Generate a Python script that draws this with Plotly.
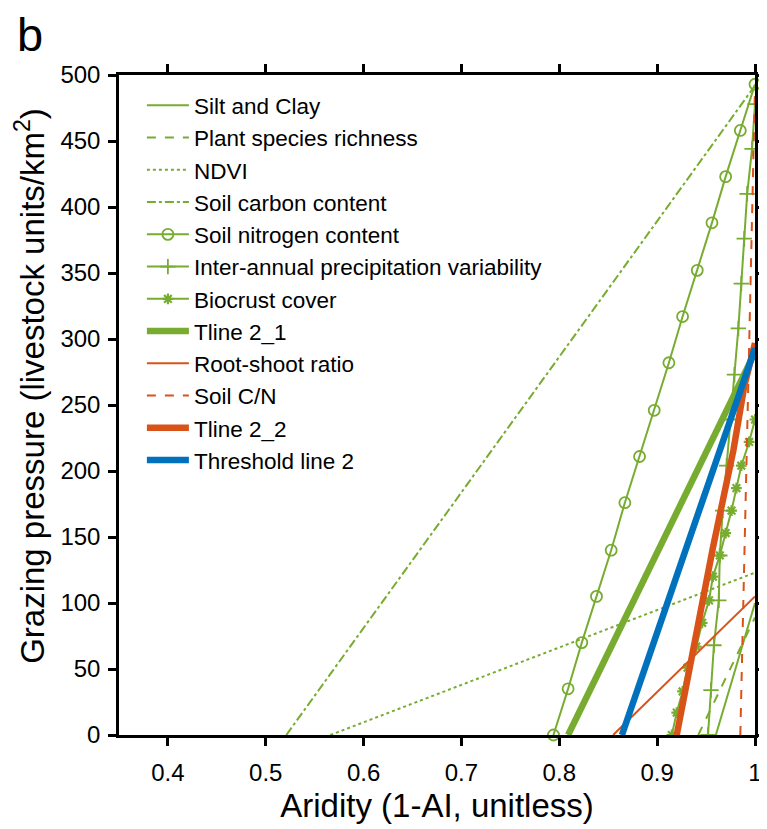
import plotly.graph_objects as go

GREEN = "#77AC30"
ORANGE = "#D95319"
BLUE = "#0072BD"

# ---- data ----
silt_x = [0.960, 1.000]
silt_y = [0, 100]

richness_x = [0.942, 1.000]
richness_y = [0, 89]

ndvi_x = [0.566, 1.000]
ndvi_y = [0, 123]

carbon_x = [0.521, 1.000]
carbon_y = [0, 492]

nitrogen_x = [0.794, 0.809, 0.823, 0.838, 0.853, 0.867, 0.882, 0.897,
              0.912, 0.926, 0.941, 0.956, 0.970, 0.985, 1.000]
nitrogen_y = [0, 35, 70, 105, 140, 176, 211, 246, 282, 317, 352, 388, 423, 458, 493]

precip_x = [0.952, 0.955, 0.958, 0.963, 0.964, 0.967, 0.971, 0.975,
            0.979, 0.983, 0.986, 0.989, 0.992, 0.997, 1.000]
precip_y = [0, 34, 68, 102, 136, 170, 204, 239, 273, 308, 342, 376, 410, 444, 478]

biocrust_x = [0.915, 0.920, 0.926, 0.931, 0.940, 0.946, 0.953, 0.957,
              0.964, 0.970, 0.976, 0.981, 0.986, 0.994, 1.000]
biocrust_y = [0, 17, 33, 51, 67, 85, 102, 120, 136, 153, 170, 187, 204, 222, 239]

tline21_x = [0.809, 1.000]
tline21_y = [0, 290]

rootshoot_x = [0.855, 1.000]
rootshoot_y = [0, 105]

soilcn_x = [0.985, 1.000]
soilcn_y = [0, 491]

tline22_x = [0.920, 0.957, 0.978, 0.989, 1.000]
tline22_y = [0, 142, 216, 264, 297]

threshold_x = [0.864, 1.000]
threshold_y = [0, 293]

x_ticks = [0.4, 0.5, 0.6, 0.7, 0.8, 0.9, 1.0]
x_ticklabels = ["0.4", "0.5", "0.6", "0.7", "0.8", "0.9", "1"]
y_ticks = [0, 50, 100, 150, 200, 250, 300, 350, 400, 450, 500]

FONT = "Liberation Sans, Arial, sans-serif"

fig = go.Figure()

def add(name, xs, ys, color, width=2, dash="solid", symbol=None, msize=10, mlw=1.8, clip=True):
    kw = {}
    if symbol:
        mode = "lines+markers"
        kw["marker"] = dict(symbol=symbol, size=msize, color=color,
                            line=dict(color=color, width=mlw))
    else:
        mode = "lines"
    fig.add_trace(go.Scatter(x=xs, y=ys, name=name, mode=mode,
                             line=dict(color=color, width=width, dash=dash),
                             cliponaxis=clip, **kw))

add("Silt and Clay", silt_x, silt_y, GREEN)
add("Plant species richness", richness_x, richness_y, GREEN, dash="dash")
add("NDVI", ndvi_x, ndvi_y, GREEN, dash="dot")
add("Soil carbon content", carbon_x, carbon_y, GREEN, dash="dashdot")
add("Soil nitrogen content", nitrogen_x, nitrogen_y, GREEN, symbol="circle-open", msize=11, clip=False)
add("Inter-annual precipitation variability", precip_x, precip_y, GREEN, symbol="cross-thin-open", msize=11)
add("Biocrust cover", biocrust_x, biocrust_y, GREEN, symbol="asterisk-open", msize=9, mlw=2.2)
add("Tline 2_1", tline21_x, tline21_y, GREEN, width=6.5)
add("Root-shoot ratio", rootshoot_x, rootshoot_y, ORANGE)
add("Soil C/N", soilcn_x, soilcn_y, ORANGE, dash="dash")
add("Tline 2_2", tline22_x, tline22_y, ORANGE, width=6.5)
add("Threshold line 2", threshold_x, threshold_y, BLUE, width=6.5)

axis_common = dict(showline=True, linecolor="black", linewidth=2.5, mirror="ticks",
                   ticks="outside", ticklen=8, tickwidth=2.5, tickcolor="black",
                   showgrid=False, zeroline=False, automargin=False,
                   tickfont=dict(family=FONT, size=24, color="black"))

# page body adds an 8px offset, so the figure is sized/margined to compensate
fig.update_layout(
    width=759, height=821,
    margin=dict(l=111, r=12, t=67, b=94),
    paper_bgcolor="white", plot_bgcolor="white",
    font=dict(family=FONT, color="black"),
    xaxis=dict(range=[0.35, 1.0], tickvals=x_ticks, ticktext=x_ticklabels,
               ticklabelstandoff=6,
               title=dict(text="Aridity (1-AI, unitless)", font=dict(family=FONT, size=33), standoff=10),
               **axis_common),
    yaxis=dict(range=[0, 500], tickvals=y_ticks, ticklabelstandoff=3,
               **axis_common),
    legend=dict(x=0.036, y=0.986, xanchor="left", yanchor="top",
                bgcolor="rgba(255,255,255,0)", borderwidth=0,
                font=dict(family=FONT, size=22.5, color="black"),
                tracegroupgap=0, itemwidth=42),
    showlegend=True,
)

fig.add_annotation(text="Grazing pressure (livestock units/km<sup>2</sup>)",
                   xref="paper", yref="paper", x=-0.141, y=0.5295,
                   xanchor="center", yanchor="middle", textangle=-90, showarrow=False,
                   font=dict(family=FONT, size=33, color="black"))

fig.add_annotation(text="b", xref="paper", yref="paper", x=-0.1635, y=1.062,
                   xanchor="left", yanchor="middle", showarrow=False,
                   font=dict(family=FONT, size=47, color="black"))

fig.write_html("out.html")
